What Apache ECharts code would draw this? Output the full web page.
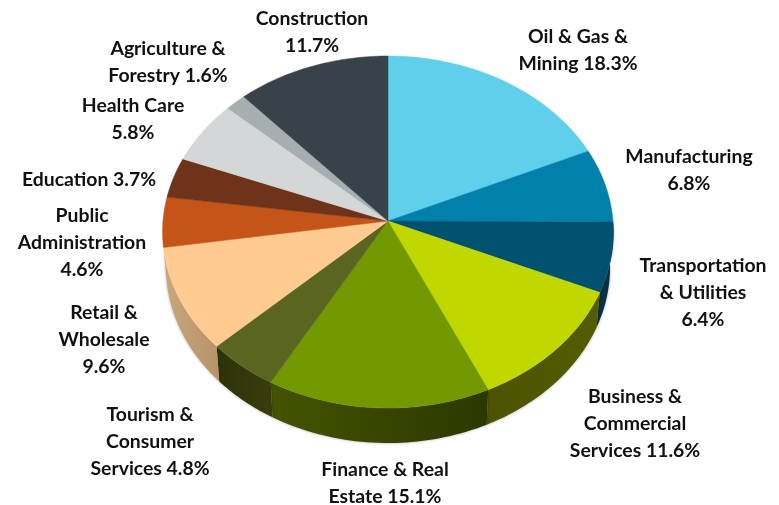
<!DOCTYPE html>
<html><head><meta charset="utf-8">
<style>html,body{margin:0;padding:0;background:#fff}#c{width:779px;height:505px}</style>
<script src="https://cdn.jsdelivr.net/npm/echarts@6/dist/echarts.min.js"></script>
</head><body><div id="c"></div>
<script>
const categories = ['Oil & Gas & Mining','Manufacturing','Transportation & Utilities','Business & Commercial Services','Finance & Real Estate','Tourism & Consumer Services','Retail & Wholesale','Public Administration','Education','Health Care','Agriculture & Forestry','Construction'];
const shares = [18.3,6.8,6.4,11.6,15.1,4.8,9.6,4.6,3.7,5.8,1.6,11.7];
const labelTexts = ['Oil & Gas &\nMining 18.3%','Manufacturing\n6.8%','Transportation\n& Utilities\n6.4%','Business &\nCommercial\nServices 11.6%','Finance & Real\nEstate 15.1%','Tourism &\nConsumer\nServices 4.8%','Retail &\nWholesale\n9.6%','Public\nAdministration\n4.6%','Education 3.7%','Health Care\n5.8%','Agriculture &\nForestry 1.6%','Construction\n11.7%'];
const topColors = ['#5fcfec','#0080ab','#00506f','#c0d800','#729a00','#5a6620','#ffcb90','#c45418','#6f3319','#d3d7d7','#a7aeb1','#374349'];
const wallColors = [null,null,['#0a2f45','#0a2f45'],['#4c5200','#565c00'],['#445400','#2c3700'],['#2e3208','#3a3c10'],['#c9a67c','#b8936a'],null,null,null,null,null];
const labelAnchors = [[578,50],[689,170],[703,293],[635,424],[385,483],[150,442],[104,340],[82,243],[89,180],[133,119],[168,62],[312,32]];

const RX=225, A=175.3, K=-0.0625, DEPTH=35, STEPS=40;
const total = shares.reduce((a,b)=>a+b,0);
const cum=[0]; shares.forEach((v,i)=>cum.push(cum[i]+v));
function proj(theta,scale,dy){
  const X=Math.sin(theta),Y=-Math.cos(theta),d=1+K*Y;
  return [scale*RX*X/d, A*Y/d+dy];
}
function arc(i,scale,dy){
  const a0=cum[i]/total*2*Math.PI,a1=cum[i+1]/total*2*Math.PI,p=[];
  for(let s=0;s<=STEPS;s++) p.push(proj(a0+(a1-a0)*s/STEPS,scale,dy));
  return p;
}
const chart=echarts.init(document.getElementById('c'),null,{renderer:'canvas'});
chart.setOption({
  animation:false,
  backgroundColor:'#fff',
  grid:{left:163,top:56,width:450,height:387},
  xAxis:{type:'value',min:-225,max:225,show:false},
  yAxis:{type:'value',min:-165,max:222,inverse:true,show:false},
  series:[
   {type:'custom',coordinateSystem:'cartesian2d',silent:true,z:1,
    data:categories.map((c,i)=>({name:c,value:[i,shares[i]]})),
    encode:{x:0,y:1},
    renderItem(params,api){
      const i=params.dataIndex, children=[];
      const toPx=p=>api.coord(p);
      if(wallColors[i]){
        const top=arc(i,1,0), base=arc(i,0.985,DEPTH).reverse();
        children.push({type:'polygon',z2:1,shape:{points:top.concat(base).map(toPx)},
          style:{fill:{type:'linear',x:0,y:0,x2:1,y2:0,colorStops:[{offset:0,color:wallColors[i][0]},{offset:1,color:wallColors[i][1]}]},
          shadowBlur:3,shadowColor:'rgba(0,0,0,0.35)'}});
      }
      return {type:'group',children};
    }},
   {type:'custom',coordinateSystem:'cartesian2d',silent:true,z:2,
    data:categories.map((c,i)=>({name:c,value:[i,shares[i]]})),
    encode:{x:0,y:1},
    renderItem(params,api){
      const i=params.dataIndex;
      const pts=[[0,0]].concat(arc(i,1,0)).map(p=>api.coord(p));
      return {type:'polygon',shape:{points:pts},style:{fill:topColors[i],stroke:topColors[i],lineWidth:0.5}};
    }},
   {type:'custom',coordinateSystem:'cartesian2d',silent:true,z:3,
    data:labelTexts.map((t,i)=>({name:categories[i],value:[i,shares[i]]})),
    encode:{x:0,y:1},
    renderItem(params){
      const i=params.dataIndex;
      return {type:'text',style:{text:labelTexts[i],x:labelAnchors[i][0],y:labelAnchors[i][1],align:'center',verticalAlign:'middle',
        font:'bold 19.4px Lato',lineHeight:27,fill:'#111'}};
    }}
  ]
});
</script></body></html>
